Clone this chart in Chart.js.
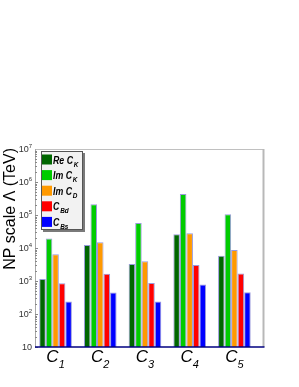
<!DOCTYPE html>
<html>
<head>
<meta charset="utf-8">
<script src="https://cdn.jsdelivr.net/npm/chart.js@4.4.1/dist/chart.umd.min.js"></script>
<style>
  html, body { margin: 0; padding: 0; background: #fff; }
  #wrap { width: 299px; height: 387px; position: relative; }
</style>
</head>
<body>
<div id="wrap"><canvas id="npChart" width="299" height="387"></canvas></div>
<script>
// categories C1..C5 (x positions 1..5)
const categories = [1, 2, 3, 4, 5];
const catNames = ['1', '2', '3', '4', '5'];

// NP scale Lambda (TeV)
const reCK = [1150, 12300, 3300, 26000, 5800];
const imCK = [19500, 210000, 57000, 430000, 105000];
const imCD = [6500, 15000, 4000, 28000, 8700];
const cBd  = [850, 1660, 870, 3050, 1700];
const cBs  = [240, 450, 240, 790, 460];

const yTickExp = [1, 2, 3, 4, 5, 6, 7];

const seriesNames = [
  ['Re C', 'K'], ['Im C', 'K'], ['Im C', 'D'], ['C', 'Bd'], ['C', 'Bs']
];
const seriesColors = ['#006600', '#00cc00', '#ff9900', '#ff0000', '#0000ff'];
const seriesData = [reCK, imCK, imCD, cBd, cBs];

const FONT = '"Liberation Sans", Arial, Helvetica, sans-serif';

const ctx = document.getElementById('npChart').getContext('2d');

// ----------------------
// Frame, ticks, labels, legend (ROOT look)
// ----------------------
const rootDecor = {
  id: 'rootDecor',
  afterDatasetsDraw(chart) {
    const c = chart.ctx;
    const a = chart.chartArea;
    const y = chart.scales.y;
    const x = chart.scales.x;
    c.save();

    // frame: top + right (gray, shadowed), left gray, bottom navy
    c.strokeStyle = '#c0c0c0';
    c.lineWidth = 1;
    c.beginPath();
    c.moveTo(a.left + 0.5, a.top + 0.5);
    c.lineTo(a.right, a.top + 0.5);
    c.stroke();
    c.strokeStyle = '#b8b8b8';
    c.lineWidth = 2;
    c.beginPath();
    c.moveTo(a.right + 0.5, a.top);
    c.lineTo(a.right + 0.5, a.bottom);
    c.stroke();
    c.strokeStyle = '#a8a8a8';
    c.lineWidth = 1;
    c.beginPath();
    c.moveTo(a.left + 0.5, a.top);
    c.lineTo(a.left + 0.5, a.bottom);
    c.stroke();

    // y ticks (major + minor, inside)
    c.strokeStyle = '#888';
    c.lineWidth = 1;
    for (let e = 1; e < 7; e++) {
      for (let m = 1; m < 10; m++) {
        const py = Math.round(y.getPixelForValue(m * Math.pow(10, e))) + 0.5;
        const len = m === 1 ? 3 : 2;
        c.beginPath();
        c.moveTo(a.left, py);
        c.lineTo(a.left + len, py);
        c.stroke();
      }
    }

    // y tick labels 10^n
    c.fillStyle = '#333';
    c.textBaseline = 'middle';
    yTickExp.forEach(e => {
      const py = y.getPixelForValue(Math.pow(10, e));
      c.textAlign = 'right';
      if (e === 1) {
        c.font = '9px ' + FONT;
        c.fillText('10', a.left - 3, py + 1);
      } else {
        c.font = '6px ' + FONT;
        const supW = c.measureText(String(e)).width;
        c.fillText(String(e), a.left - 3, py - 3);
        c.font = '9px ' + FONT;
        c.fillText('10', a.left - 3 - supW, py + 1);
      }
    });

    // bottom axis
    c.strokeStyle = '#000080';
    c.lineWidth = 1.5;
    c.beginPath();
    c.moveTo(a.left, a.bottom);
    c.lineTo(a.right + 1.5, a.bottom);
    c.stroke();

    // x labels C_i
    c.fillStyle = '#000';
    c.textBaseline = 'alphabetic';
    categories.forEach((v, i) => {
      const px = x.getPixelForValue(v);
      c.font = 'italic 17px ' + FONT;
      const wC = c.measureText('C').width;
      c.font = 'italic 11px ' + FONT;
      const wS = c.measureText(catNames[i]).width;
      const x0 = px - (wC + wS) / 2;
      c.font = 'italic 17px ' + FONT;
      c.textAlign = 'left';
      c.fillText('C', x0, a.bottom + 15);
      c.font = 'italic 11px ' + FONT;
      c.fillText(catNames[i], x0 + wC, a.bottom + 21);
    });

    // y title
    c.save();
    c.translate(15, a.top - 1);
    c.rotate(-Math.PI / 2);
    c.font = '16px ' + FONT;
    c.textAlign = 'right';
    c.textBaseline = 'alphabetic';
    c.fillStyle = '#000';
    c.fillText('NP scale \u039B (TeV)', 0, 0);
    c.restore();

    // legend
    const lx = a.left + 6, ly = a.top + 2, lw = 42, lh = 79;
    c.fillStyle = '#7a7a7a';
    c.fillRect(lx + 2, ly + 2, lw, lh);
    c.fillStyle = '#f2f2f2';
    c.fillRect(lx, ly, lw, lh);
    c.strokeStyle = '#555';
    c.lineWidth = 1;
    c.strokeRect(lx + 0.5, ly + 0.5, lw - 1, lh - 1);
    seriesNames.forEach((n, i) => {
      const cy = ly + 8.5 + i * 15.6;
      c.fillStyle = seriesColors[i];
      c.fillRect(lx + 1, cy - 5, 10, 10);
      c.fillStyle = '#000';
      c.save();
      c.translate(lx + 12, cy + 4);
      c.scale(0.8, 1);
      c.textAlign = 'left';
      c.textBaseline = 'alphabetic';
      c.font = 'italic bold 11px ' + FONT;
      c.fillText(n[0], 0, 0);
      const w = c.measureText(n[0]).width;
      c.font = 'italic bold 8px ' + FONT;
      c.fillText(n[1], w + 1, 3);
      c.restore();
    });

    c.restore();
  }
};

const datasets = seriesData.map((arr, i) => ({
  label: seriesNames[i].join(''),
  data: arr.map((v, k) => ({ x: categories[k], y: v })),
  backgroundColor: seriesColors[i],
  borderColor: 'rgba(70,70,190,0.55)',
  borderWidth: 1,
  borderSkipped: 'bottom'
}));

new Chart(ctx, {
  type: 'bar',
  data: { datasets },
  options: {
    responsive: false,
    animation: false,
    layout: { padding: { left: 35, top: 149, right: 36, bottom: 40 } },
    categoryPercentage: 0.73,
    barPercentage: 1.0,
    plugins: { legend: { display: false }, tooltip: { enabled: false } },
    scales: {
      x: {
        type: 'linear', min: 0.54, max: 5.64, offset: false, display: false,
        grid: { display: false, offset: false }
      },
      y: {
        type: 'logarithmic', min: 10, max: 1e7, display: false
      }
    }
  },
  plugins: [rootDecor]
});
</script>
</body>
</html>
